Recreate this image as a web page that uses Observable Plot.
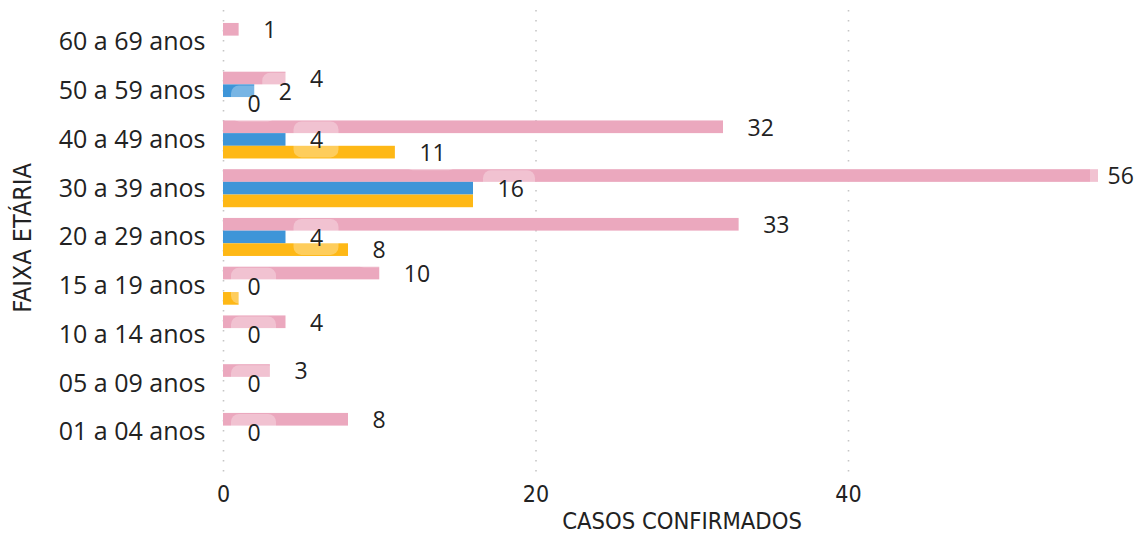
<!DOCTYPE html>
<html>
<head>
<meta charset="utf-8">
<script src="https://cdn.jsdelivr.net/npm/d3@7"></script>
<script src="https://cdn.jsdelivr.net/npm/@observablehq/plot@0.6"></script>
<style>
  html, body { margin: 0; padding: 0; background: #fff; }
  #chart svg { display: block; }
  #chart [aria-label^="x-axis"] text { font-family: "DejaVu Sans Condensed", "DejaVu Sans", sans-serif; font-size: 23px; fill: #222; }
  #chart [aria-label^="y-axis"] text { font-family: "Open Sans", sans-serif; font-size: 25px; fill: #222; }
</style>
</head>
<body>
<div id="chart"></div>
<script>
// ---- data ----
const groups = ["60 a 69 anos", "50 a 59 anos", "40 a 49 anos", "30 a 39 anos", "20 a 29 anos",
                "15 a 19 anos", "10 a 14 anos", "05 a 09 anos", "01 a 04 anos"];
const pinkValues   = [1, 4, 32, 56, 33, 10, 4, 3, 8];
const blueValues   = [null, 2, 4, 16, 4, 0, 0, 0, 0];
const yellowValues = [null, 0, 11, 16, 8, 1, null, null, null];
const seriesNames  = ["rosa", "azul", "amarelo"];
const seriesColors = ["#EBA8BE", "#3E95D8", "#FEB816"];
// data labels that the original chart does not display
const hiddenLabels = [["amarelo", "30 a 39 anos"], ["amarelo", "15 a 19 anos"]];
const xTicks = [0, 20, 40];
const xTitle = "CASOS CONFIRMADOS";
const yTitle = "FAIXA ETÁRIA";

// ---- build table ----
const valueLists = [pinkValues, blueValues, yellowValues];
const rows = [];
groups.forEach((g, i) => {
  seriesNames.forEach((s, k) => {
    const v = valueLists[k][i];
    if (v != null) rows.push({group: g, series: s, value: v});
  });
});
const isHidden = d => hiddenLabels.some(([s, g]) => s === d.series && g === d.group);
const labelRows = rows.filter(d => !isHidden(d));

const bandH = 38.02, third = bandH / 3;
const offsets = {rosa: -third, azul: 0, amarelo: third};
const barInsets = {
  rosa: {insetTop: 0, insetBottom: 2 * third},
  azul: {insetTop: third, insetBottom: third},
  amarelo: {insetTop: 2 * third, insetBottom: 0}
};
const pillH = 36;
const pillInsets = s => {
  const c = bandH / 2 + offsets[s];
  return {insetTop: c - pillH / 2, insetBottom: bandH - (c + pillH / 2)};
};
const bigCut = 50; // labels near the right edge are pulled inwards
const titleFont = "Liberation Sans Narrow, DejaVu Sans Condensed, sans-serif";

const marks = [
  Plot.ruleX(xTicks, {stroke: "#c6c6c6", strokeWidth: 1.6, strokeDasharray: "1.6 8.4"})
];
seriesNames.forEach((s, k) => {
  marks.push(Plot.barX(rows.filter(d => d.series === s), {
    x: "value", y: "group", fill: seriesColors[k], ...barInsets[s]
  }));
});
seriesNames.forEach(s => {
  const lr = labelRows.filter(d => d.series === s);
  const pi = pillInsets(s);
  marks.push(Plot.barX(lr.filter(d => d.value < 10), {
    x1: "value", x2: "value", y: "group", fill: "white", fillOpacity: 0.3, rx: 8,
    insetLeft: 8, insetRight: -53, ...pi
  }));
  marks.push(Plot.barX(lr.filter(d => d.value >= 10 && d.value < bigCut), {
    x1: "value", x2: "value", y: "group", fill: "white", fillOpacity: 0.3, rx: 8,
    insetLeft: 10, insetRight: -62, ...pi
  }));
  marks.push(Plot.barX(lr.filter(d => d.value >= bigCut), {
    x1: "value", x2: "value", y: "group", fill: "white", fillOpacity: 0.3, rx: 8,
    insetLeft: -8, insetRight: -47, ...pi
  }));
  marks.push(Plot.text(lr.filter(d => d.value < bigCut), {
    x: "value", y: "group", text: d => String(d.value), dx: 24, dy: offsets[s] + 1,
    textAnchor: "start", fontSize: 23, fill: "#222"
  }));
  marks.push(Plot.text(lr.filter(d => d.value >= bigCut), {
    x: "value", y: "group", text: d => String(d.value), dx: 9, dy: offsets[s] + 1,
    textAnchor: "start", fontSize: 23, fill: "#222"
  }));
});
marks.push(Plot.text([xTitle], {
  frameAnchor: "bottom", text: d => d, dx: 21, dy: 55, fontSize: 23.6, textAnchor: "middle",
  fontFamily: titleFont, fill: "#222"
}));
marks.push(Plot.text([yTitle], {
  frameAnchor: "left", text: d => d, dx: -201, dy: -4, rotate: -90, fontSize: 25, textAnchor: "middle",
  fontFamily: titleFont, fill: "#222"
}));

const chart = Plot.plot({
  width: 1134,
  height: 537,
  marginLeft: 223,
  marginRight: 36,
  marginTop: 10,
  marginBottom: 64,
  style: {fontFamily: "Open Sans, sans-serif", fontSize: "22px", color: "#222", background: "white", overflow: "visible"},
  x: {domain: [0, 56], ticks: xTicks, tickSize: 0, tickPadding: 12, label: null},
  y: {domain: groups, paddingInner: 0.22, paddingOuter: 0.359, align: 0.37, round: false, tickSize: 0, tickPadding: 18, label: null},
  marks
});
document.getElementById("chart").appendChild(chart);
</script>
</body>
</html>
